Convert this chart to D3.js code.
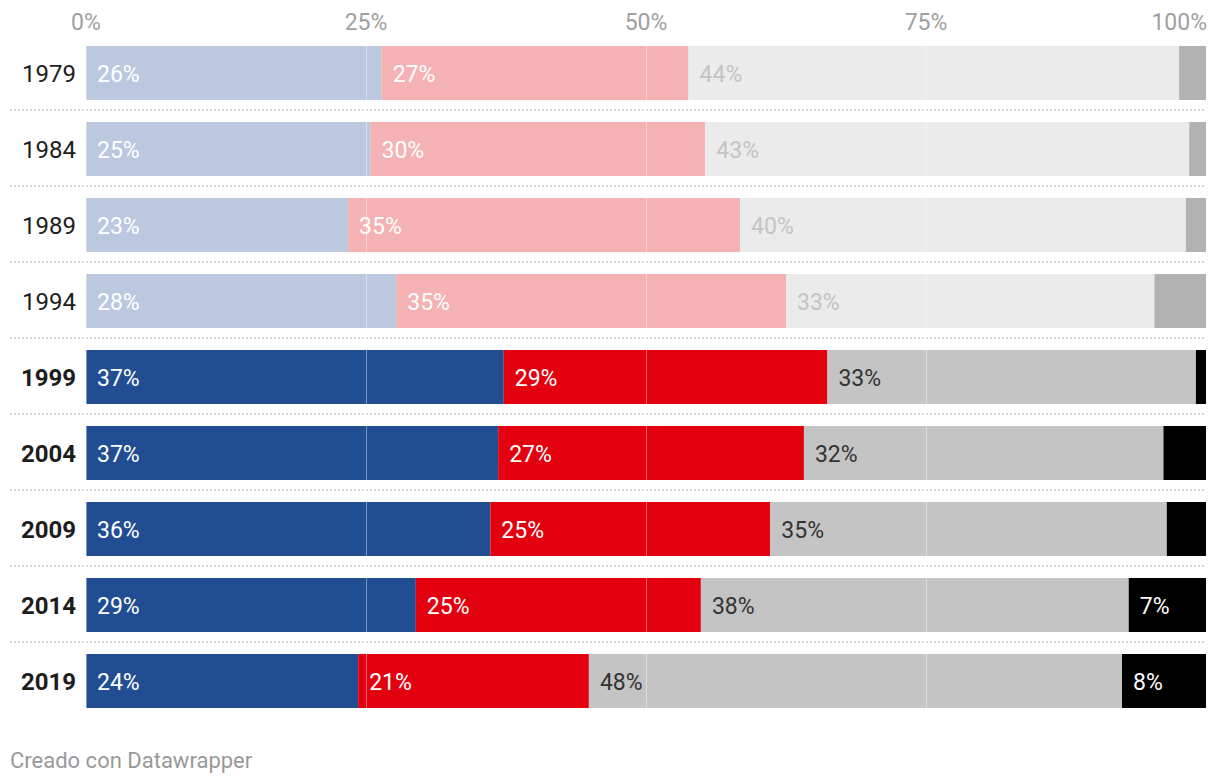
<!DOCTYPE html>
<html><head><meta charset="utf-8">
<script src="https://cdn.jsdelivr.net/npm/d3@7"></script>
<style>
body{margin:0;background:#fff;font-family:Roboto,"Noto Sans",sans-serif;}
</style></head><body>
<svg id="c" width="1220" height="784"></svg>
<script>
const years = ["1979","1984","1989","1994","1999","2004","2009","2014","2019"];
const highlighted = ["1999","2004","2009","2014","2019"];
const blue  = [26.4, 25.4, 23.4, 27.7, 37.3, 36.8, 36.1, 29.45, 24.3];
const red   = [27.4, 29.9, 35.0, 34.8, 28.9, 27.3, 25.0, 25.45, 20.6];
const grey  = [43.8, 43.2, 39.8, 32.9, 32.9, 32.1, 35.4, 38.2, 47.6];
const other = [2.4, 1.5, 1.8, 4.6, 0.9, 3.8, 3.5, 6.9, 7.5];
const tickValues = [0, 25, 50, 75, 100];
const tickLabels = ["0%","25%","50%","75%","100%"];
const footer = "Creado con Datawrapper";

const seriesKeys = ["blue","red","grey","other"];
const seriesVals = {blue, red, grey, other};
const colStrong = {blue:"#214e93", red:"#e3000f", grey:"#c4c4c4", other:"#000000"};
const colFaded  = {blue:"#bbc8df", red:"#f5b2b5", grey:"#ebebeb", other:"#b2b2b2"};
const lblStrong = {blue:"#ffffff", red:"#ffffff", grey:"#333333", other:"#ffffff"};
const lblFaded  = {blue:"#ffffff", red:"#ffffff", grey:"#c4c4c4", other:"#ffffff"};

const rows = years.map((y,i)=>({year:y, idx:i, blue:blue[i], red:red[i], grey:grey[i], other:other[i]}));
const stack = d3.stack().keys(seriesKeys)(rows);

const svg = d3.select("#c");
const x = d3.scaleLinear().domain([0,100]).range([86,1206]);
const yS = d3.scaleBand().domain(years).range([35,719]).paddingInner(22/76).paddingOuter(11/76);

// separators
svg.append("g").selectAll("line").data(years.slice(0,-1)).join("line")
  .attr("x1",10).attr("x2",1206)
  .attr("y1",d=>yS(d)+yS.bandwidth()+10).attr("y2",d=>yS(d)+yS.bandwidth()+10)
  .attr("stroke","#d4d4d4").attr("stroke-width",2).attr("stroke-dasharray","2,2");

// bars
const g = svg.append("g");
stack.forEach(layer=>{
  const key = layer.key;
  g.append("g").selectAll("rect").data(layer).join("rect")
    .attr("x",d=>x(d[0])).attr("width",d=>x(d[1])-x(d[0]))
    .attr("y",d=>yS(d.data.year)).attr("height",yS.bandwidth())
    .attr("fill",d=>highlighted.includes(d.data.year)?colStrong[key]:colFaded[key]);
});

// gridlines on top
svg.append("g").selectAll("line").data(tickValues).join("line")
  .attr("x1",d=>Math.round(x(d))+0.5).attr("x2",d=>Math.round(x(d))+0.5)
  .attr("y1",40).attr("y2",712)
  .attr("stroke","#ffffff").attr("stroke-opacity",0.4).attr("stroke-width",1);

// value labels
stack.forEach(layer=>{
  const key = layer.key;
  const vals = seriesVals[key];
  g.append("g").selectAll("text").data(layer.filter(d=>vals[d.data.idx]>=5)).join("text")
    .attr("x",d=>x(d[0])+11).attr("y",d=>yS(d.data.year)+yS.bandwidth()/2+8.5)
    .attr("font-size",23).attr("fill",d=>highlighted.includes(d.data.year)?lblStrong[key]:lblFaded[key])
    .text(d=>Math.round(vals[d.data.idx])+"%");
});

// year labels
svg.append("g").selectAll("text").data(years).join("text")
  .attr("x",76).attr("y",d=>yS(d)+yS.bandwidth()/2+8.5)
  .attr("text-anchor","end").attr("font-size",24)
  .attr("font-weight",d=>highlighted.includes(d)?700:400)
  .attr("fill","#1d1d1d").text(d=>d);

// top axis
svg.append("g").selectAll("text").data(tickValues).join("text")
  .attr("x",(d,i)=>i===tickValues.length-1?x(d)+1:x(d))
  .attr("y",30)
  .attr("text-anchor",(d,i)=>i===tickValues.length-1?"end":"middle")
  .attr("font-size",23).attr("fill","#a0a0a0")
  .text((d,i)=>tickLabels[i]);

svg.append("text").attr("x",10).attr("y",768).attr("font-size",22).attr("fill","#999999").text(footer);
</script>
</body></html>
